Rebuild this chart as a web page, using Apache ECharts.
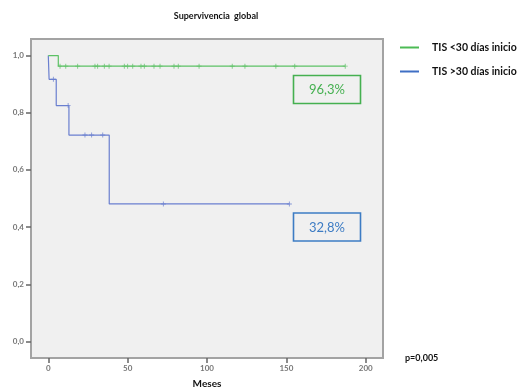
<!DOCTYPE html>
<html><head><meta charset="utf-8">
<script src="https://cdn.jsdelivr.net/npm/echarts@6/dist/echarts.min.js"></script>
<style>html,body{margin:0;padding:0;background:#fff}#c{width:526px;height:389px}</style>
</head><body><div id="c"></div>
<script>
// Data
const seriesNames = ['TIS <30 días inicio', 'TIS >30 días inicio'];
const greenStepTimes = [0, 6.3, 187.1];
const greenStepSurv = [1, 0.963, 0.963];
const greenCensorTimes = [7.4, 11, 18.5, 29.4, 31.1, 35.3, 38.3, 47.9, 50, 53.2, 58.4, 60.5, 66.6, 70.4, 79.2, 81.9, 95, 115.9, 123.9, 143.4, 155.3, 187.1];
const greenCensorSurv = greenCensorTimes.map(() => 0.963);
const blueStepTimes = [0, 0.5, 5, 13, 38.4, 151.9];
const blueStepSurv = [1, 0.917, 0.825, 0.722, 0.481, 0.481];
const blueCensorTimes = [3.2, 12.5, 23.1, 27.3, 34.3, 72.5, 151.9];
const blueCensorSurv = [0.917, 0.825, 0.722, 0.722, 0.722, 0.481, 0.481];
const xTicks = [0, 50, 100, 150, 200];
const yTicks = [0, 0.2, 0.4, 0.6, 0.8, 1.0];
const finalLabels = ['96,3%', '32,8%'];
const pValueText = 'p=0,005';
const titleText = 'Supervivencia  global';

const green = '#5cc165', blue = '#6a7fcf';
const greenBox = '#45b050', blueBox = '#3d7cc4';
const font = 'Lato, "Open Sans", sans-serif';
const cross = 'path://M-1,-0.18H1V0.18H-1Z M-0.18,-1H0.18V1H-0.18Z';

const zip = (a, b) => a.map((v, i) => [v, b[i]]);

const chart = echarts.init(document.getElementById('c'), null, {renderer: 'canvas'});
chart.setOption({
  animation: false,
  backgroundColor: '#fff',
  grid: {left: 31, right: 143, top: 39, bottom: 31, show: true, backgroundColor: '#f0f0f0', borderColor: '#a3a3a3', borderWidth: 2, containLabel: false, outerBoundsMode: 'none'},
  legend: {
    left: 395, top: 37, orient: 'vertical', itemGap: 13, itemWidth: 19, itemHeight: 2, icon: 'rect',
    data: [{name: seriesNames[0], itemStyle: {color: '#4cbb55'}}, {name: seriesNames[1], itemStyle: {color: '#3f6fc4'}}],
    textStyle: {fontFamily: font, fontWeight: 'bold', fontSize: 10.5, color: '#111', padding: [0, 0, 0, 8]}
  },
  xAxis: {
    type: 'value', min: -10.9, max: 210.9,
    name: 'Meses', nameLocation: 'middle', nameGap: 21,
    nameTextStyle: {fontFamily: font, fontWeight: 'bold', fontSize: 10, color: '#111'},
    axisLine: {show: false, onZero: false}, splitLine: {show: false},
    axisTick: {show: true, customValues: xTicks, length: 5, lineStyle: {color: '#666', width: 1.5}},
    axisLabel: {customValues: xTicks, fontFamily: font, fontSize: 8, fontWeight: 'bold', color: '#777', margin: 6}
  },
  yAxis: {
    type: 'value', min: -0.058, max: 1.058,
    axisLine: {show: false, onZero: false}, splitLine: {show: false},
    axisTick: {show: true, customValues: yTicks, length: 5, lineStyle: {color: '#666', width: 1.5}},
    axisLabel: {customValues: yTicks, fontFamily: font, fontSize: 8, fontWeight: 'bold', color: '#777', margin: 7,
      formatter: v => v.toFixed(1).replace('.', ',')}
  },
  series: [
    {name: seriesNames[0], type: 'line', step: 'end', data: zip(greenStepTimes, greenStepSurv), showSymbol: false, lineStyle: {color: green, width: 1.2}, itemStyle: {color: green}, z: 3},
    {name: seriesNames[1], type: 'line', step: 'end', data: zip(blueStepTimes, blueStepSurv), showSymbol: false, lineStyle: {color: blue, width: 1.2}, itemStyle: {color: blue}, z: 2},
    {name: 'gc', type: 'scatter', data: zip(greenCensorTimes, greenCensorSurv), symbol: cross, symbolSize: 5, itemStyle: {color: green}, z: 4},
    {name: 'bc', type: 'scatter', data: zip(blueCensorTimes, blueCensorSurv), symbol: cross, symbolSize: 5, itemStyle: {color: blue}, z: 4}
  ],
  graphic: [
    {type: 'text', x: 216, y: 16, style: {text: titleText, fontFamily: font, fontWeight: 'bold', fontSize: 9, fill: '#111', align: 'center', verticalAlign: 'middle'}},
    {type: 'rect', shape: {x: 293.5, y: 75.5, width: 67, height: 28}, style: {fill: 'none', stroke: greenBox, lineWidth: 1.6}},
    {type: 'text', x: 327, y: 90, style: {text: finalLabels[0], fontFamily: font, fontSize: 13, fill: greenBox, align: 'center', verticalAlign: 'middle'}},
    {type: 'rect', shape: {x: 293.5, y: 213, width: 67, height: 28}, style: {fill: 'none', stroke: blueBox, lineWidth: 1.6}},
    {type: 'text', x: 327, y: 228, style: {text: finalLabels[1], fontFamily: font, fontSize: 13, fill: blueBox, align: 'center', verticalAlign: 'middle'}},
    {type: 'text', x: 405, y: 358, style: {text: pValueText, fontFamily: font, fontWeight: 'bold', fontSize: 9, fill: '#111', verticalAlign: 'middle'}}
  ]
});
</script></body></html>
